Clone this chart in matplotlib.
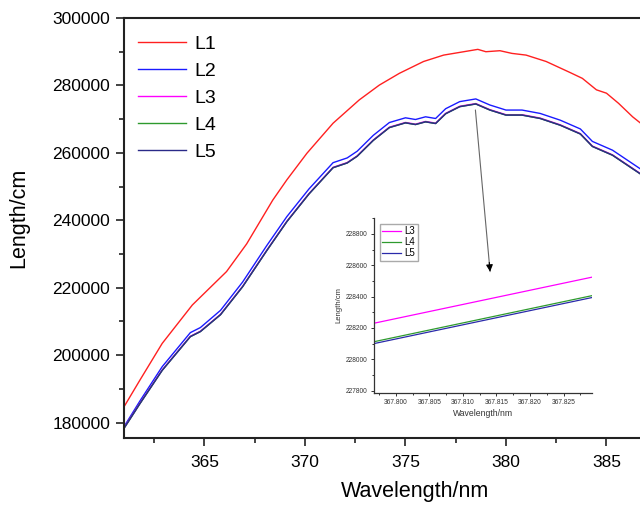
import matplotlib
matplotlib.use("Agg")
import matplotlib.pyplot as plt
from matplotlib.ticker import MultipleLocator, FixedLocator, FormatStrFormatter

plt.rcParams['font.family'] = ['Liberation Sans', 'DejaVu Sans']

# main panel: L1 on its own grid
wl1 = [361.0, 361.8, 362.9, 364.4, 366.1, 367.1, 368.4, 369.1, 370.1, 371.4,
       372.7, 373.7, 374.7, 375.9, 376.9, 377.9, 378.6, 379.0, 379.7, 380.3,
       381.0, 382.0, 383.2, 383.8, 384.5, 385.0, 385.6, 386.3, 386.7]
L1 = [184700, 192700, 203500, 214900, 224800, 233000, 246000, 252000, 259900, 268800,
      275700, 280100, 283600, 287100, 289000, 290000, 290700, 290000, 290300, 289500,
      289000, 287100, 283800, 282100, 278700, 277700, 274700, 270700, 268800]

# L2..L5 share a grid
wl = [361.0, 361.8, 362.9, 364.3, 364.8, 365.8, 366.9, 368.1, 369.1, 370.2,
      371.4, 372.1, 372.6, 373.4, 374.2, 375.0, 375.5, 376.0, 376.5, 377.0,
      377.7, 378.5, 379.2, 380.0, 380.8, 381.7, 382.7, 383.7, 384.3, 385.3, 386.7]
L2 = [178800, 186500, 196600, 206700, 208200, 213300, 221700, 232500, 241100, 249300,
      257100, 258500, 260500, 265200, 269000, 270400, 269900, 270700, 270200, 273100,
      275200, 276000, 274200, 272700, 272700, 271700, 269700, 267100, 263400, 260800, 255200]
L3 = [178430, 185830, 195630, 205630, 207130, 212130, 220430, 231130, 239730, 247930,
      255730, 257130, 259130, 263830, 267630, 269030, 268530, 269330, 268830, 271730,
      273830, 274630, 272830, 271330, 271330, 270330, 268330, 265730, 262030, 259430, 253830]
L4 = [178310, 185710, 195510, 205510, 207010, 212010, 220310, 231010, 239610, 247810,
      255610, 257010, 259010, 263710, 267510, 268910, 268410, 269210, 268710, 271610,
      273710, 274510, 272710, 271210, 271210, 270210, 268210, 265610, 261910, 259310, 253710]
L5 = [178300, 185700, 195500, 205500, 207000, 212000, 220300, 231000, 239600, 247800,
      255600, 257000, 259000, 263700, 267500, 268900, 268400, 269200, 268700, 271600,
      273700, 274500, 272700, 271200, 271200, 270200, 268200, 265600, 261900, 259300, 253700]

# zoomed inset
wl_zoom = [367.7967, 367.8292]
L3_zoom = [228230, 228524]
L4_zoom = [228112, 228406]
L5_zoom = [228100, 228394]

fig = plt.figure(figsize=(6.4, 5.08), dpi=100)
ax = fig.add_axes([124 / 640, 70 / 508, 583 / 640, 420 / 508])

ax.plot(wl1, L1, color='#ff2020', lw=1.0, label='L1')
ax.plot(wl, L2, color='#1a1aff', lw=1.0, label='L2')
ax.plot(wl, L3, color='#ff00ff', lw=1.0, label='L3')
ax.plot(wl, L4, color='#2e9a2e', lw=1.0, label='L4')
ax.plot(wl, L5, color='#2a2a88', lw=1.0, label='L5')

ax.set_xlim(361, 390)
ax.set_ylim(175450, 300000)
ax.xaxis.set_major_locator(FixedLocator([365, 370, 375, 380, 385]))
ax.xaxis.set_minor_locator(FixedLocator([362.5, 367.5, 372.5, 377.5, 382.5, 387.5]))
ax.yaxis.set_major_locator(MultipleLocator(20000))
ax.yaxis.set_minor_locator(MultipleLocator(10000))
ax.tick_params(which='both', direction='out', top=False, right=False, width=1.2, color='#222222')
ax.tick_params(which='major', length=6, labelsize=12.5)
ax.tick_params(axis='x', which='major', pad=6)
ax.tick_params(axis='y', which='major', pad=4)
ax.tick_params(which='minor', length=3.5)
for s in ax.spines.values():
    s.set_linewidth(1.5)
    s.set_color('#222222')

ax.set_xlabel('Wavelength/nm', fontsize=15.5, labelpad=8)
ax.set_ylabel('Length/cm', fontsize=15.5)
ax.yaxis.set_label_coords(-0.163, 0.524)

ax.legend(loc='upper left', bbox_to_anchor=(0, 1 - 4 / 420), frameon=False, fontsize=14,
          handlelength=2.5, handletextpad=0.4, labelspacing=0.48,
          borderaxespad=0.3, borderpad=0.4)

# pointer from the peak down to the inset (gray shaft, black head)
ax.annotate('', xy=(379.21, 224780), xytext=(378.48, 272720),
            arrowprops=dict(arrowstyle='-', color='#666666', lw=0.8,
                            shrinkA=0, shrinkB=0), zorder=10)
ax.annotate('', xy=(379.21, 224780), xytext=(379.17, 227500),
            arrowprops=dict(arrowstyle='-|>', color='black', lw=0.8,
                            mutation_scale=10, shrinkA=0, shrinkB=0), zorder=11)

# inset
ins = fig.add_axes([373.7 / 640, (508 - 392.7) / 508, 218 / 640, 174.7 / 508])
ins.set_facecolor('none')
ins.plot(wl_zoom, L3_zoom, color='#ff00ff', lw=0.9, label='L3')
ins.plot(wl_zoom, L4_zoom, color='#2e9a2e', lw=0.9, label='L4')
ins.plot(wl_zoom, L5_zoom, color='#2a2aaa', lw=0.9, label='L5')
ins.set_xlim(367.7967, 367.8292)
ins.set_ylim(227787, 228902)
ins.xaxis.set_major_locator(MultipleLocator(0.005))
ins.xaxis.set_minor_locator(MultipleLocator(0.0025))
ins.yaxis.set_major_locator(MultipleLocator(200))
ins.yaxis.set_minor_locator(MultipleLocator(100))
ins.xaxis.set_major_formatter(FormatStrFormatter('%.3f'))
ins.spines['top'].set_visible(False)
ins.spines['right'].set_visible(False)
for s in ('left', 'bottom'):
    ins.spines[s].set_linewidth(0.9)
    ins.spines[s].set_color('#333333')
ins.tick_params(which='both', direction='out', width=0.7, color='#333333',
                labelsize=4.8, labelcolor='#333333', pad=2)
ins.tick_params(which='major', length=2.5)
ins.tick_params(which='minor', length=1.5)
ins.set_xlabel('Wavelength/nm', fontsize=6.2, color='#333333', labelpad=2)
ins.set_ylabel('Length/cm', fontsize=5.5, color='#333333', labelpad=2)
ins.legend(loc='upper left', fontsize=7, handlelength=2.0, handletextpad=0.3,
           labelspacing=0.1, borderpad=0.25, borderaxespad=0.6, fancybox=False,
           edgecolor='#aaaaaa', framealpha=1)

fig.savefig('out.png', dpi=100)
